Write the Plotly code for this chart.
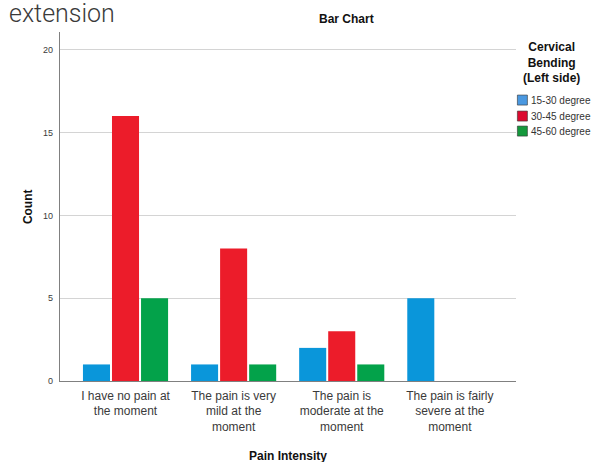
import plotly.graph_objects as go

categories = ["I have no pain at<br>the moment",
              "The pain is very<br>mild at the<br>moment",
              "The pain is<br>moderate at the<br>moment",
              "The pain is fairly<br>severe at the<br>moment"]
series_names = ["15-30 degree", "30-45 degree", "45-60 degree"]
values_15_30 = [1, 1, 2, 5]
values_30_45 = [16, 8, 3, 0]
values_45_60 = [5, 1, 1, 0]
colors = ["#0a96da", "#ec1c2a", "#03a24a"]
swatch_colors = ["#4a98e0", "#dc0a30", "#14983c"]
y_ticks = [0, 5, 10, 15, 20]

W, H = 591, 462
L, R, T, B = 60, 515.6, 32, 380.7

def px(x):
    return (x - L) / (R - L)

def py(y):
    return (B - y) / (B - T)

FONT = "Liberation Sans, Arial, sans-serif"

fig = go.Figure()
for name, vals, col in zip(series_names, [values_15_30, values_30_45, values_45_60], colors):
    fig.add_trace(go.Bar(x=categories, y=vals, name=name,
                         marker=dict(color=col, line=dict(width=0)),
                         showlegend=False))

ann = [
    dict(text="extension", x=px(7), y=py(14), xanchor="left",
         font=dict(family="Roboto", size=25, color="#3a3a3a", weight=300)),
    dict(text="<b>Bar Chart</b>", x=px(346), y=py(19),
         font=dict(family=FONT, size=12, color="#111111")),
    dict(text="<b>Count</b>", x=px(28), y=py(206), textangle=-90,
         font=dict(family=FONT, size=12, color="#111111")),
    dict(text="<b>Pain Intensity</b>", x=px(287.5), y=py(456),
         font=dict(family=FONT, size=12, color="#111111")),
    dict(text="<b>Cervical<br>Bending<br>(Left side)</b>", x=px(551), y=py(62),
         font=dict(family=FONT, size=12, color="#111111")),
]
for a in ann:
    a.update(xref="paper", yref="paper", showarrow=False, yanchor="middle")
    a.setdefault("xanchor", "center")

shapes = []
leg_y = [100, 116, 131]
for name, col, yy in zip(series_names, swatch_colors, leg_y):
    shapes.append(dict(type="rect", xref="paper", yref="paper",
                       x0=px(517), x1=px(527), y0=py(yy - 5), y1=py(yy + 5),
                       fillcolor=col, line=dict(color="#333333", width=0.6)))
    ann.append(dict(text=name, x=px(528.5), y=py(yy), xref="paper", yref="paper",
                    xanchor="left", yanchor="middle", showarrow=False,
                    font=dict(family=FONT, size=10, color="#333333")))

fig.update_layout(
    width=W, height=H,
    margin=dict(l=L, r=W - R, t=T, b=H - B, pad=0),
    paper_bgcolor="white", plot_bgcolor="white",
    barmode="group", bargap=0.194, bargroupgap=0.069,
    font=dict(family=FONT, size=12, color="#333333"),
    annotations=ann, shapes=shapes,
    showlegend=False,
)
fig.update_xaxes(range=[-0.606, 3.612], showline=True, linecolor="#808080", linewidth=1.2,
                 showgrid=False, ticks="outside", ticklen=3, tickcolor="rgba(0,0,0,0)",
                 tickfont=dict(family=FONT, size=12, color="#3a3a3a"), fixedrange=True)
fig.update_yaxes(range=[0, 21.08], tickvals=y_ticks, showline=True, linecolor="#808080",
                 linewidth=1.2, showgrid=True, gridcolor="#d4d4d4", gridwidth=1,
                 zeroline=False, ticks="outside", ticklen=4, tickcolor="rgba(0,0,0,0)",
                 tickfont=dict(family=FONT, size=9, color="#3a3a3a"), fixedrange=True)

fig.write_html("out.html", config={"displayModeBar": False},
               post_script="document.body.style.margin='0';document.body.style.overflow='hidden';")
